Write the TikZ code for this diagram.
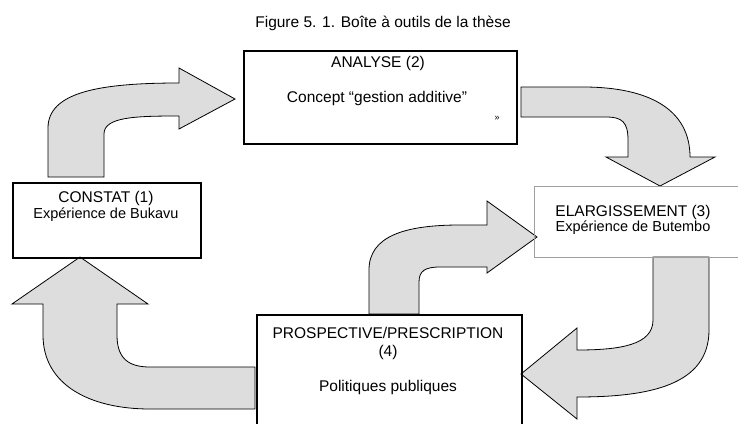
\documentclass[tikz,border=0pt]{standalone}
\usepackage{fontspec}
\setmainfont{Liberation Sans}
\usepackage{tikz}
\usetikzlibrary{calc}

\begin{document}
\begin{tikzpicture}[x=1pt, y=-1pt,
   fleche/.style={draw=black, fill=gray!27, line width=0.8pt, line join=miter},
   boite/.style={draw, line width=1.5pt, anchor=north west, inner sep=0pt},
   gros/.style={font=\fontsize{15.5}{17}\selectfont, inner sep=0pt},
   petit/.style={font=\fontsize{14.5}{16}\selectfont, inner sep=0pt}]
   \useasboundingbox (0,0) rectangle (738,423);
   \clip (0,0) rectangle (738,423);
   \node[gros] (titre) at (383,23) {Figure 5. 1. Boîte à outils de la thèse};
   % fleches
   \draw[fleche] (48,177) -- (48,128) .. controls (48,92) and (100,83) .. (179,83)
      -- (179,68) -- (235,99) -- (179,129) -- (179,116)
      .. controls (135,116) and (104,117) .. (104,134) -- (104,177) -- cycle;
   \draw[fleche] (521,87) -- (583,87) .. controls (650,87) and (690,110) .. (690,157)
      -- (715,157) -- (660,186) -- (606,157) -- (628,157) -- (628,140)
      .. controls (628,122) and (622,117) .. (606,117) -- (521,117) -- cycle;
   \draw[fleche] (369,314) -- (369,270) .. controls (369,236) and (405,225) .. (460,225)
      -- (487,225) -- (487,201) -- (537,237) -- (487,273) -- (487,267) -- (440,267)
      .. controls (425,267) and (419,271) .. (419,282) -- (419,314) -- cycle;
   \draw[fleche] (653,257) -- (653,320) .. controls (653,345) and (620,350) .. (577,350)
      -- (577,328) -- (521,374) -- (577,419) -- (577,397)
      .. controls (650,397) and (709,385) .. (709,330) -- (709,257) -- cycle;
   \draw[fleche] (255,367) -- (150,367) .. controls (128,367) and (117,358) .. (117,335)
      -- (117,304) -- (148,304) -- (80,257) -- (12,304) -- (43,304) -- (43,335)
      .. controls (43,385) and (90,409) .. (150,409) -- (255,409) -- cycle;
   % boites
   \node[boite, minimum width=188, minimum height=75] (constat) at (12,182) {};
   \node[boite, line width=1.8pt, minimum width=273, minimum height=93] (analyse) at (243,50) {};
   \node[boite, draw=gray!75, line width=0.7pt, minimum width=215, minimum height=71] (elarg) at (534,186) {};
   \node[boite, minimum width=265, minimum height=130] (prosp) at (256,314) {};
   % textes
   \node[gros] (constat-t) at (106,198) {CONSTAT (1)};
   \node[petit] (constat-s) at (106,215) {Expérience de Bukavu};
   \node[gros] (analyse-t) at (378,63) {ANALYSE (2)};
   \node[gros] (analyse-s) at (377,98) {Concept “gestion additive”};
   \node[font=\fontsize{9}{10}\selectfont] (analyse-g) at (497,118) {»};
   \node[gros] (elarg-t) at (633,212) {ELARGISSEMENT (3)};
   \node[petit] (elarg-s) at (633,228) {Expérience de Butembo};
   \node[gros] (prosp-t) at (388,333) {PROSPECTIVE/PRESCRIPTION};
   \node[gros] (prosp-n) at (388,352) {(4)};
   \node[gros] (prosp-s) at (388,387) {Politiques publiques};
\end{tikzpicture}
\end{document}
